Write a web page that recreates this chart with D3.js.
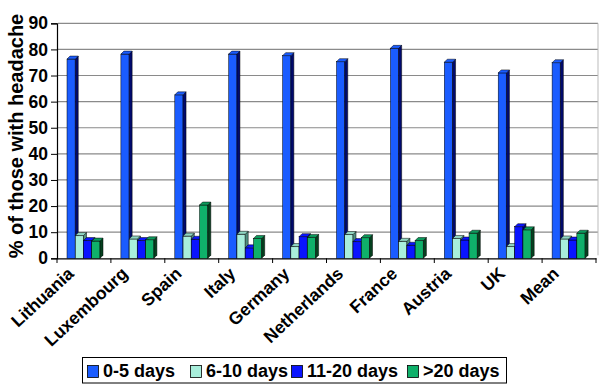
<!DOCTYPE html>
<html><head><meta charset="utf-8">
<script src="https://cdn.jsdelivr.net/npm/d3@7"></script>
<style>body{margin:0;background:#fff;} svg{display:block;font-family:"Liberation Sans",Arial,sans-serif;font-weight:bold;}</style>
</head><body>
<svg id="c" width="600" height="384"></svg>
<script>
const categories = ["Lithuania","Luxembourg","Spain","Italy","Germany","Netherlands","France","Austria","UK","Mean"];
const seriesNames = ["0-5 days","6-10 days","11-20 days",">20 days"];
const days0to5   = [76.3, 78.2, 62.6, 78.2, 77.6, 75.3, 80.4, 75.1, 71.0, 74.9];
const days6to10  = [8.7, 7.4, 8.5, 9.2, 4.5, 9.1, 6.5, 7.6, 4.5, 7.4];
const days11to20 = [6.8, 6.8, 7.3, 4.0, 8.3, 6.4, 5.0, 7.0, 12.1, 7.0];
const days20plus = [6.6, 7.1, 20.4, 7.6, 8.0, 7.9, 6.8, 9.6, 10.9, 9.6];
const yTicks = [0,10,20,30,40,50,60,70,80,90];

const values = [days0to5, days6to10, days11to20, days20plus];
const front = ["#1a5cff","#a8eedb","#0a14ff","#0fb06a"];
const side  = ["#000a6e","#4f8f80","#00006e","#05401f"];
const topC  = ["#1a5cff","#8fd6c2","#0a14ff","#0c9a5c"];
const D = 3;
const FONT = "'Liberation Sans',Arial,sans-serif";

const svg = d3.select("#c");
const x0 = d3.scaleBand().domain(categories).range([57, 596]);
const x1 = d3.scaleBand().domain(seriesNames).range([10, 43]);
const y = d3.scaleLinear().domain([0, 90]).range([258.3, 23.3]);

// gridlines
svg.append("g").selectAll("line").data(yTicks.slice(1)).join("line")
  .attr("x1", 58).attr("x2", 598).attr("y1", d => y(d)).attr("y2", d => y(d))
  .attr("stroke", "#8a8a8a").attr("stroke-width", 1.2);
// back wall right edge
svg.append("line").attr("x1",598).attr("x2",598).attr("y1",y(90)).attr("y2",y(0)-D)
  .attr("stroke","#bbbbbb");

// y axis
const yAxis = d3.axisLeft(y).tickValues(yTicks).tickSize(6).tickPadding(3);
const gy = svg.append("g").attr("transform","translate(57,0)").call(yAxis);
gy.select(".domain").attr("stroke","#000").attr("stroke-width",1.2);
gy.selectAll(".tick line").attr("stroke","#000");
gy.selectAll("text").attr("font-size",17.5).attr("font-weight","bold").attr("fill","#000")
  .attr("font-family",FONT);

// x axis
const xAxis = d3.axisBottom(x0).tickSize(0).tickFormat("");
const gx = svg.append("g").attr("transform","translate(0,258.3)").call(xAxis);
gx.select(".domain").attr("stroke","#000").attr("stroke-width",1.2);
// rotated category labels
svg.append("g").selectAll("text").data(categories).join("text")
  .attr("transform", d => `translate(${x0(d) + x0.bandwidth()/2 - 9},275) rotate(-43)`)
  .attr("text-anchor","end")
  .attr("font-size",17.5).attr("font-weight","bold").attr("font-family",FONT)
  .text(d => d);
// category boundary ticks
const bounds = categories.map(c => x0(c)).concat([x0.range()[1]]);
svg.append("g").selectAll("line").data(bounds).join("line")
  .attr("x1", d => d).attr("x2", d => d).attr("y1", 258.3).attr("y2", 263)
  .attr("stroke","#000");

// bars
const bars = svg.append("g");
categories.forEach((c, i) => {
  seriesNames.forEach((s, j) => {
    const v = values[j][i];
    const bx = x0(c) + x1(s), bw = x1.bandwidth(), by = y(v), bh = y(0) - y(v);
    const g = bars.append("g");
    g.append("rect").attr("x",bx).attr("y",by).attr("width",bw).attr("height",bh)
      .attr("fill",front[j]).attr("stroke","#000").attr("stroke-width",0.5);
    g.append("path").attr("d",`M${bx+bw},${by}L${bx+bw+D},${by-D}L${bx+bw+D},${by+bh-D}L${bx+bw},${by+bh}Z`)
      .attr("fill",side[j]).attr("stroke","#000").attr("stroke-width",0.5);
    g.append("path").attr("d",`M${bx},${by}L${bx+D},${by-D}L${bx+bw+D},${by-D}L${bx+bw},${by}Z`)
      .attr("fill",topC[j]).attr("stroke","#000").attr("stroke-width",0.5);
  });
});

// y title
svg.append("text").attr("transform","translate(23,136) rotate(-90)")
  .attr("text-anchor","middle").attr("font-size",20).attr("font-weight","bold")
  .attr("font-family",FONT)
  .text("% of those with headache");

// legend
const lg = svg.append("g");
lg.append("rect").attr("x",82.5).attr("y",357.5).attr("width",424).attr("height",25.5)
  .attr("fill","#fff").attr("stroke","#000").attr("stroke-width",1);
const lx = [87, 190, 291, 407];
seriesNames.forEach((s, j) => {
  lg.append("rect").attr("x",lx[j]+0.5).attr("y",365.5).attr("width",11).attr("height",12)
    .attr("fill",front[j]).attr("stroke","#000").attr("stroke-width",0.8);
  lg.append("text").attr("x",lx[j]+16).attr("y",377).attr("font-size",18).attr("font-weight","bold")
    .attr("font-family",FONT).text(s);
});
</script>
</body></html>
